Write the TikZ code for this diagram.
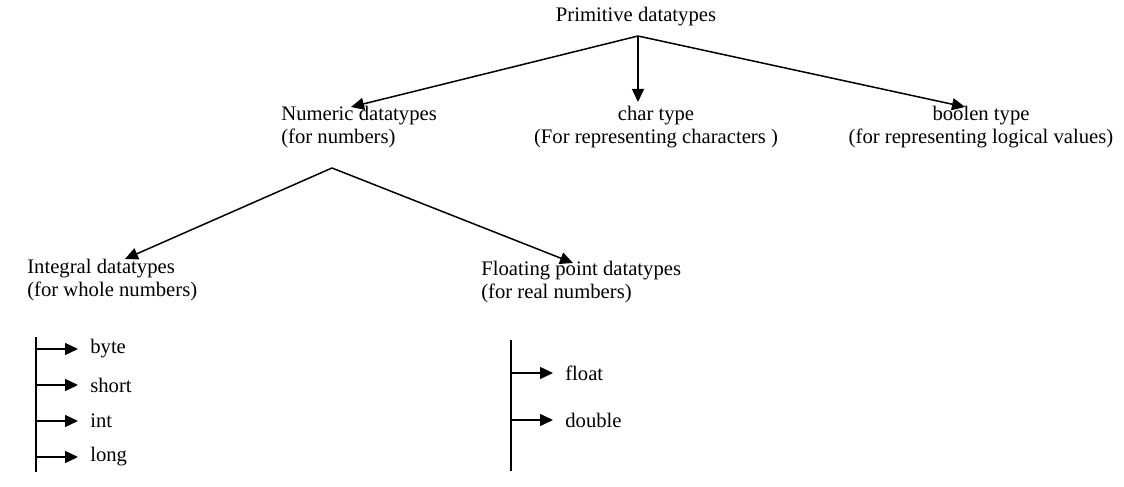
\documentclass[tikz,border=0pt]{standalone}
\usepackage{fontspec}
\setmainfont{Liberation Serif}
\usetikzlibrary{arrows.meta}
\begin{document}
\begin{tikzpicture}[x=0.6pt,y=-0.6pt]
  \useasboundingbox (0,0) rectangle (1124,487);

      \begin{scope}[every node/.style={inner sep=0pt,font=\fontsize{12.4}{13.8}\selectfont}]
        \node (prim) at (636,17) {Primitive datatypes};
        \node[anchor=north west,align=left] (num) at (281,106) {Numeric datatypes\\(for numbers)};
        \node[anchor=north,align=center] (char) at (656,106) {char type\\(For representing characters )};
        \node[anchor=north,align=center] (bool) at (981,106) {boolen type\\(for representing logical values)};
        \node[anchor=north west,align=left] (intg) at (27,259) {Integral datatypes\\(for whole numbers)};
        \node[anchor=north west,align=left] (flt) at (481,261) {Floating point datatypes\\(for real numbers)};
        \node[anchor=west,inner xsep=7.2pt] (byte) at (78,349) {byte};
        \node[anchor=west,inner xsep=7.2pt] (short) at (78,385) {short};
        \node[anchor=west,inner xsep=7.2pt] (int) at (78,421) {int};
        \node[anchor=west,inner xsep=7.2pt] (long) at (78,457) {long};
        \node[anchor=west,inner xsep=7.2pt] (float) at (553,373) {float};
        \node[anchor=west,inner xsep=7.2pt] (double) at (553,420) {double};
      \end{scope}

      % branch points and arrow ends
      \coordinate (p) at (638,36);
      \coordinate (pnum) at (351,107);
      \coordinate (pchar) at (638,102);
      \coordinate (pbool) at (965,107);
      \coordinate (n) at (332,168);
      \coordinate (nint) at (125,259);
      \coordinate (nflt) at (573,263);

      % rails
      \coordinate (itop) at (36,337);
      \coordinate (ibot) at (36,472);
      \coordinate (ftop) at (511,340);
      \coordinate (fbot) at (511,471);
      \coordinate (i1) at (36,349);
      \coordinate (i2) at (36,385);
      \coordinate (i3) at (36,421);
      \coordinate (i4) at (36,457);
      \coordinate (f1) at (511,373);
      \coordinate (f2) at (511,420);

      \draw[line width=1.2pt] (itop) -- (ibot);
      \draw[line width=1.2pt] (ftop) -- (fbot);

      \begin{scope}[every edge/.style={draw,line width=0.9pt,-{Triangle[length=7.8pt,width=7.2pt]}}]
        \path (p) edge (pnum);
        \path (p) edge (pchar);
        \path (p) edge (pbool);
        \path (n) edge (nint);
        \path (n) edge (nflt);
        \path (i1) edge (byte.west);
        \path (i2) edge (short.west);
        \path (i3) edge (int.west);
        \path (i4) edge (long.west);
        \path (f1) edge (float.west);
        \path (f2) edge (double.west);
      \end{scope}

    \end{tikzpicture}
\end{document}
